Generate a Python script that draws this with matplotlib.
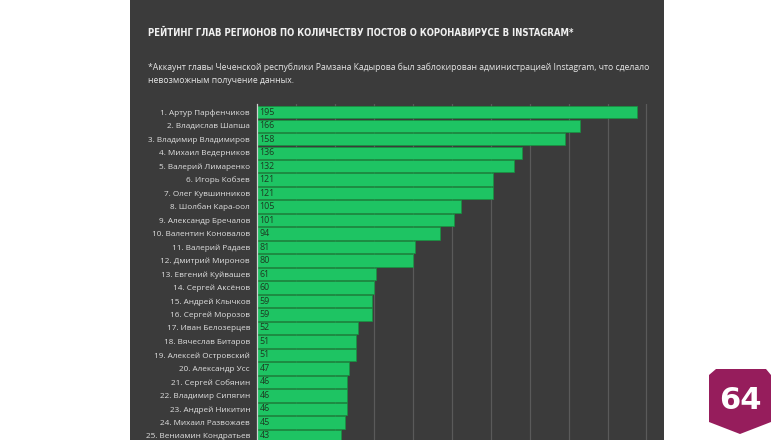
import matplotlib
matplotlib.use("Agg")
import matplotlib.pyplot as plt
from matplotlib import font_manager
from matplotlib.patches import Polygon, Rectangle

names = [
    "1. Артур Парфенчиков", "2. Владислав Шапша", "3. Владимир Владимиров",
    "4. Михаил Ведерников", "5. Валерий Лимаренко", "6. Игорь Кобзев",
    "7. Олег Кувшинников", "8. Шолбан Кара-оол", "9. Александр Бречалов",
    "10. Валентин Коновалов", "11. Валерий Радаев", "12. Дмитрий Миронов",
    "13. Евгений Куйвашев", "14. Сергей Аксёнов", "15. Андрей Клычков",
    "16. Сергей Морозов", "17. Иван Белозерцев", "18. Вячеслав Битаров",
    "19. Алексей Островский", "20. Александр Усс", "21. Сергей Собянин",
    "22. Владимир Сипягин", "23. Андрей Никитин", "24. Михаил Развожаев",
    "25. Вениамин Кондратьев",
]
posts = [195, 166, 158, 136, 132, 121, 121, 105, 101, 94, 81, 80, 61, 60, 59,
         59, 52, 51, 51, 47, 46, 46, 46, 45, 43]

title = "РЕЙТИНГ ГЛАВ РЕГИОНОВ ПО КОЛИЧЕСТВУ ПОСТОВ О КОРОНАВИРУСЕ В INSTAGRAM*"
note = ["*Аккаунт главы Чеченской республики Рамзана Кадырова был заблокирован администрацией Instagram, что сделало",
        "невозможным получение данных."]

W, H = 778, 440
BG = "#3b3b3b"
GREEN = "#1ec463"

# condensed face for the title if one is installed (the narrow ones lack cyrillic)
narrow = None
for f in font_manager.fontManager.ttflist:
    low = (f.name + " " + f.fname).lower()
    if "condensed" in low and "mono" not in low:
        narrow = f.name
        break
title_family = [narrow, "DejaVu Sans"] if narrow else ["DejaVu Sans"]

fig = plt.figure(figsize=(W / 100, H / 100), dpi=100)
fig.patch.set_facecolor("white")

# dark panel
fig.patches.append(Rectangle((130 / W, 0), (664 - 130) / W, 1, transform=fig.transFigure,
                             facecolor=BG, edgecolor="none", zorder=-5))

t = fig.text(148 / W, 1 - 33 / H, title, color="#f0f0f0", fontsize=9.5,
             fontweight="bold", fontstretch="condensed", family=title_family,
             va="center", ha="left")
# shrink the title until it fits the width used in the reference
fig.canvas.draw()
tw = t.get_window_extent().width
if tw > 432:
    t.set_fontsize(9.5 * 432 / tw)

for k, line in enumerate(note):
    fig.text(148 / W, 1 - (67 + 13 * k) / H, line, color="#e6e6e6", fontsize=6.25,
             family=["Open Sans", "DejaVu Sans"], va="center", ha="left")

ax = fig.add_axes([257 / W, 0, (664 - 257) / W, (440 - 104) / H])
ax.set_facecolor(BG)
ax.patch.set_alpha(0)

y = list(range(len(names)))
ax.barh(y, posts, height=0.9, color=GREEN, edgecolor="#17923f", linewidth=0.5, zorder=2)
for i, v in zip(y, posts):
    ax.text(1.2, i, str(v), color="#1d3a22", fontsize=6.4, va="center", ha="left",
            family=["Open Sans", "DejaVu Sans"], zorder=3)

ax.set_xlim(0, 209)
ax.set_ylim(24.3, -0.6)
ax.set_xticks(range(20, 201, 20))
ax.xaxis.grid(True, color="#5a5a5a", linewidth=0.9, zorder=1)
ax.set_axisbelow(True)
ax.tick_params(axis="x", length=0, labelbottom=False)
ax.set_yticks(y)
ax.set_yticklabels(names, color="#e0e0e0", fontsize=5.9, family=["Open Sans", "DejaVu Sans"])
ax.tick_params(axis="y", length=0, pad=5)
for s in ["top", "right", "bottom"]:
    ax.spines[s].set_visible(False)
ax.spines["left"].set_color("#d0d0d0")
ax.spines["left"].set_linewidth(0.9)

# "64" badge
badge = [(716, 369), (766, 369), (771, 375), (771, 422), (740, 434), (709, 422), (709, 375)]
fig.patches.append(Polygon([(px / W, 1 - py / H) for px, py in badge],
                           closed=True, transform=fig.transFigure, facecolor="#961d5c",
                           edgecolor="none", zorder=5))
fig.text(740 / W, 1 - 400 / H, "64", color="white", fontsize=22, fontweight="bold",
         ha="center", va="center", zorder=6)

fig.savefig("out.png", dpi=100, facecolor=fig.get_facecolor())
